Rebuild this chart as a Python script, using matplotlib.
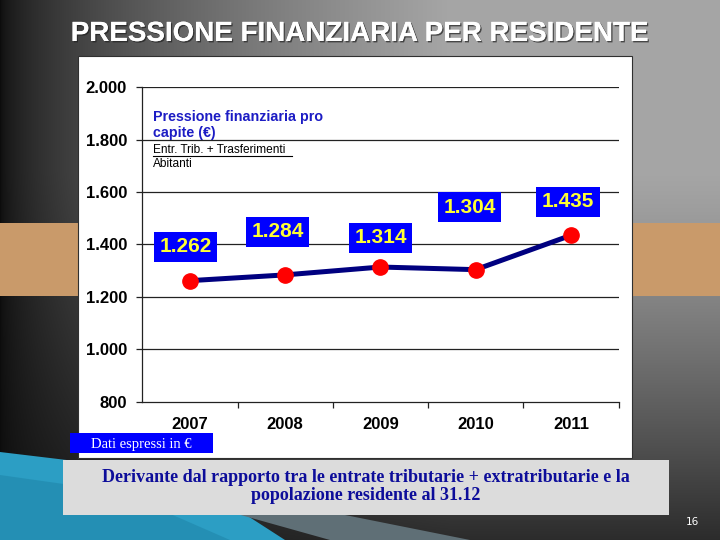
import numpy as np
import matplotlib
matplotlib.use("Agg")
import matplotlib.pyplot as plt
from matplotlib.patches import Rectangle, Polygon
import matplotlib.patheffects as pe

# ---- data ----
years = ["2007", "2008", "2009", "2010", "2011"]
values = [1262, 1284, 1314, 1304, 1435]
value_labels = ["1.262", "1.284", "1.314", "1.304", "1.435"]
yticks = [800, 1000, 1200, 1400, 1600, 1800, 2000]
ytick_labels = ["800", "1.000", "1.200", "1.400", "1.600", "1.800", "2.000"]
# label offsets (points) relative to each point
label_offsets = [(-3, 24.5), (-5.4, 31), (0, 21), (-4.3, 45), (-2, 24)]

title = "PRESSIONE FINANZIARIA PER RESIDENTE"
inset_title = "Pressione finanziaria pro\ncapite (€)"
inset_num = "Entr. Trib. + Trasferimenti"
inset_den = "Abitanti"
unit_note = "Dati espressi in €"
caption_lines = ["Derivante dal rapporto tra le entrate tributarie + extratributarie e la",
                 "popolazione residente al 31.12"]

SANS = "Liberation Sans"
SERIF = "Liberation Serif"

W, H = 720, 540
fig = plt.figure(figsize=(7.2, 5.4), dpi=100)

# ---- background (pixel coordinate decoration axes) ----
bg = fig.add_axes([0, 0, 1, 1])
bg.set_xlim(0, W)
bg.set_ylim(H, 0)
bg.axis("off")
xx, yy = np.meshgrid(np.arange(W), np.arange(H))
s = np.clip(xx / 450.0, 0, 1) ** 0.6
fac = 1 - 0.8 * np.clip((yy - 170) / 370.0, 0, 1) ** 1.2
val = 0.05 + 0.6 * s * fac
img = np.dstack([val, val, val])
bg.imshow(img, extent=(0, W, H, 0), aspect="auto", zorder=0)

# cyan arrow at bottom-left and grey streak
bg.add_patch(Polygon([(0, 452), (150, 470), (195, 482), (285, 540), (0, 540)],
                     closed=True, facecolor="#2c9ec4", edgecolor="none", zorder=1))
bg.add_patch(Polygon([(0, 475), (120, 492), (230, 540), (0, 540)],
                     closed=True, facecolor="#1f86aa", edgecolor="none", zorder=1, alpha=0.6))
bg.add_patch(Polygon([(230, 512), (330, 512), (470, 540), (330, 540)],
                     closed=True, facecolor="#5f6f76", edgecolor="none", zorder=1))

# tan bands
bg.add_patch(Rectangle((0, 222.5), 80, 73.5, facecolor="#c99a6a", edgecolor="none", zorder=2))
bg.add_patch(Rectangle((630, 222.5), 90, 73.5, facecolor="#c99a6a", edgecolor="none", zorder=2))

# white panel
bg.add_patch(Rectangle((78, 56), 554, 402, facecolor="white", edgecolor="#303030",
                       linewidth=0.8, zorder=3))

# caption box
bg.add_patch(Rectangle((63, 460), 606, 55, facecolor="#dcdcdc", edgecolor="none", zorder=3))
for line, base in zip(caption_lines, [482, 499.5]):
    bg.text(366, base, line, ha="center", va="baseline", fontsize=13, fontweight="bold",
            family=SERIF, color="#0d0d9a", zorder=4)

# title
bg.text(359.5, 41, title, ha="center", va="baseline", fontsize=20, fontweight="bold",
        family=SANS, color="white", zorder=4,
        path_effects=[pe.withSimplePatchShadow(offset=(1.0, -1.0), shadow_rgbFace="#202020", alpha=0.7),
                      pe.Normal()])

# page number
bg.text(692, 522, "16", ha="center", va="center", fontsize=7.5, color="white",
        family="DejaVu Sans", zorder=4)

# ---- chart axes ----
ax = fig.add_axes([142.3 / W, 1 - 401.7 / H, 476.2 / W, 314.4 / H])
ax.set_facecolor("none")
x = np.arange(len(years))
ax.set_xlim(-0.5, len(years) - 0.5)
ax.set_ylim(800, 2000)

for yv in yticks[1:]:
    ax.axhline(yv, color="#222222", linewidth=0.9, zorder=1)

ax.plot(x, values, color="#000080", linewidth=3.6, zorder=3, solid_capstyle="round")
ax.plot(x, values, linestyle="none", marker="o", markersize=11,
        markerfacecolor="#ff0000", markeredgecolor="#ff0000", zorder=4)

for xi, v, lab, off in zip(x, values, value_labels, label_offsets):
    ax.annotate(lab, (xi, v), xytext=off, textcoords="offset points",
                ha="center", va="center", fontsize=15, fontweight="bold",
                family=SANS, color="#ffff33", zorder=5,
                bbox=dict(boxstyle="square,pad=0.26", facecolor="#0000ff", edgecolor="none"))

ax.set_yticks(yticks)
ax.set_yticklabels(ytick_labels, fontsize=12, fontweight="bold", family=SANS, color="black")
ax.set_xticks(x)
ax.set_xticklabels(years, fontsize=12, fontweight="bold", family=SANS, color="black")
ax.tick_params(axis="x", which="major", length=0, pad=11)
ax.set_xticks(np.arange(len(years)) + 0.5, minor=True)
ax.tick_params(axis="x", which="minor", length=4, width=0.9, color="#222222", direction="out")
ax.tick_params(axis="y", which="major", length=4, width=0.9, color="#222222", pad=7)
for side in ["top", "right"]:
    ax.spines[side].set_visible(False)
for side in ["left", "bottom"]:
    ax.spines[side].set_color("#222222")
    ax.spines[side].set_linewidth(0.9)

# inset text (pixel coords on decoration axes, drawn above chart)
txt_ax = fig.add_axes([0, 0, 1, 1])
txt_ax.set_xlim(0, W)
txt_ax.set_ylim(H, 0)
txt_ax.axis("off")
txt_ax.text(153, 121, inset_title.split("\n")[0], ha="left", va="baseline", fontsize=10.3,
            fontweight="bold", family=SANS, color="#1c1cc4")
txt_ax.text(153, 137, inset_title.split("\n")[1], ha="left", va="baseline", fontsize=10.3,
            fontweight="bold", family=SANS, color="#1c1cc4")
txt_ax.text(153, 153, inset_num, ha="left", va="baseline", fontsize=8.6,
            family=SANS, color="black")
txt_ax.text(153, 167, inset_den, ha="left", va="baseline", fontsize=8.6,
            family=SANS, color="black")
txt_ax.plot([153, 292], [155.5, 155.5], color="black", linewidth=0.8)

# unit note box
txt_ax.add_patch(Rectangle((70, 433), 143, 20, facecolor="#0000ff", edgecolor="none"))
txt_ax.text(91, 448, unit_note, ha="left", va="baseline", fontsize=10.5, family=SERIF,
            color="white")

fig.savefig("out.png", dpi=100)
